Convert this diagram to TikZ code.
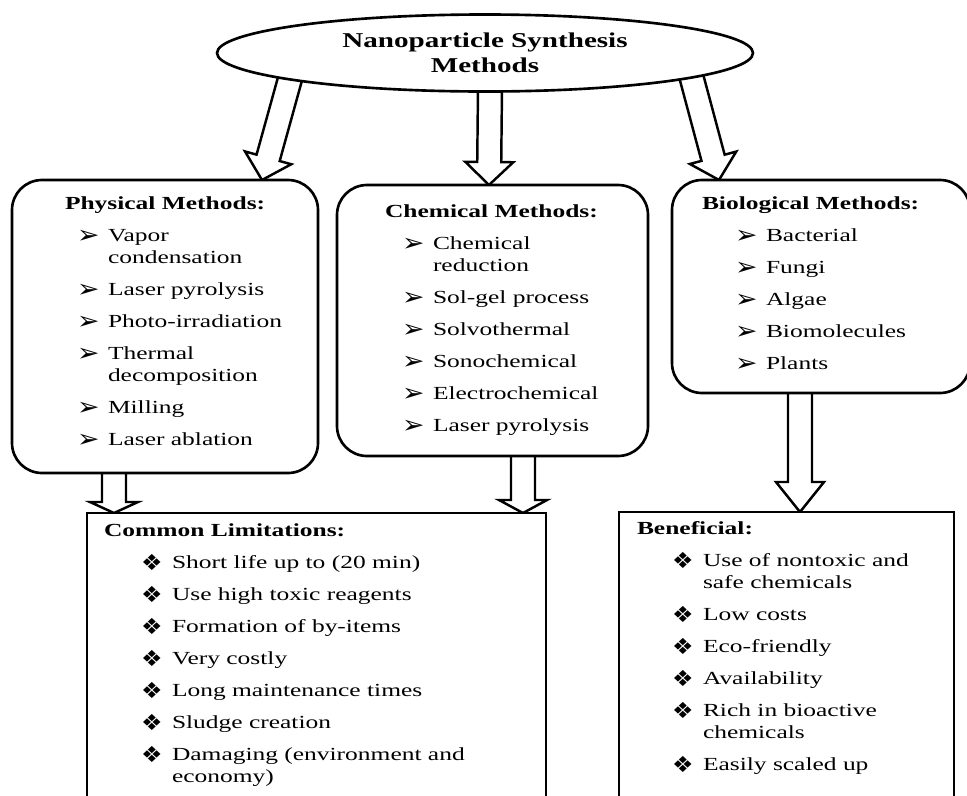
\documentclass[tikz,border=0pt]{standalone}
\usepackage{fontspec}
\setmainfont{Liberation Serif}[FakeStretch=1.38]
\newfontfamily\dingfont{DejaVu Sans}
\usepackage{graphicx}
\usepackage{tikz}
\usetikzlibrary{shapes.geometric, positioning, calc, backgrounds}

\newlength{\itemgap}
\setlength{\itemgap}{5.7pt}
\newcommand{\arrbul}{\makebox[0.62cm][l]{\raisebox{-1pt}{\scalebox{1.45}[1.35]{\dingfont ➢}}}}
\newcommand{\diabul}{\makebox[0.62cm][l]{\raisebox{-0.8pt}{\scalebox{1.3}[1.2]{\dingfont ❖}}}}
\newcommand{\methlist}[2]{\begin{tabular}{@{\hspace{#1}}l@{}l@{}}#2\end{tabular}}
% hollow block arrow: [head length]{from}{to}
\newcommand{\hollowarrow}[3][0.46cm]{%
  \coordinate (ha) at (#2);
  \coordinate (hb) at (#3);
  \coordinate (hh) at ($(hb)!#1!(ha)$);
  \draw[fatarr] ($(ha)!0.24cm!90:(hb)$) -- ($(hh)!0.24cm!-90:(ha)$)
    -- ($(hh)!0.48cm!-90:(ha)$) -- (hb) -- ($(hh)!0.48cm!90:(ha)$)
    -- ($(hh)!0.24cm!90:(ha)$) -- ($(ha)!0.24cm!-90:(hb)$);
}

\begin{document}
\begin{tikzpicture}[
    topoval/.style={ellipse, draw, line width=1.5pt, fill=white,
        minimum width=10.72cm, minimum height=1.54cm, inner sep=0pt,
        align=center, font=\fontsize{12}{14.2}\selectfont\bfseries},
    methbox/.style={rectangle, rounded corners=0.6cm, draw, line width=1.5pt,
        fill=white, inner sep=0pt, outer sep=0pt},
    notebox/.style={rectangle, draw, line width=1.5pt, fill=white,
        inner sep=0pt, outer sep=0pt, anchor=north west, minimum height=7cm},
    listtxt/.style={inner sep=0pt, outer sep=0pt, font=\fontsize{10.5}{12.5}\selectfont},
    fatarr/.style={line width=1.4pt, line join=miter}
]
\useasboundingbox (0,0) rectangle (19.34,-15.9);
\clip (0,0) rectangle (19.34,-15.9);

\node[topoval] (synth) at (9.70,-1.06) {Nanoparticle Synthesis\\Methods};

\node[methbox, minimum width=6.12cm, minimum height=5.86cm] (phys) at (3.30,-6.53) {};
\node[methbox, minimum width=6.22cm, minimum height=5.42cm] (chem) at (9.85,-6.41) {};
\node[methbox, minimum width=5.96cm, minimum height=4.26cm] (bio) at (16.42,-5.73) {};
\node[notebox, minimum width=9.18cm] (limits) at (1.74,-10.26) {};
\node[notebox, minimum width=6.70cm] (benefit) at (12.38,-10.24) {};

\node[listtxt, below right=0.29cm and 1.06cm of phys.north west] (physlist) {\methlist{0.24cm}{%
  \multicolumn{2}{@{}l@{}}{\bfseries Physical Methods:}\\[\itemgap]
  \arrbul & Vapor\\
          & condensation\\[\itemgap]
  \arrbul & Laser pyrolysis\\[\itemgap]
  \arrbul & Photo-irradiation\\[\itemgap]
  \arrbul & Thermal\\
          & decomposition\\[\itemgap]
  \arrbul & Milling\\[\itemgap]
  \arrbul & Laser ablation}};

\node[listtxt, below right=0.35cm and 0.96cm of chem.north west] (chemlist) {\methlist{0.34cm}{%
  \multicolumn{2}{@{}l@{}}{\bfseries Chemical Methods:}\\[\itemgap]
  \arrbul & Chemical\\
          & reduction\\[\itemgap]
  \arrbul & Sol-gel process\\[\itemgap]
  \arrbul & Solvothermal\\[\itemgap]
  \arrbul & Sonochemical\\[\itemgap]
  \arrbul & Electrochemical\\[\itemgap]
  \arrbul & Laser pyrolysis}};

\node[listtxt, below right=0.29cm and 0.60cm of bio.north west] (biolist) {\methlist{0.66cm}{%
  \multicolumn{2}{@{}l@{}}{\bfseries Biological Methods:}\\[\itemgap]
  \arrbul & Bacterial\\[\itemgap]
  \arrbul & Fungi\\[\itemgap]
  \arrbul & Algae\\[\itemgap]
  \arrbul & Biomolecules\\[\itemgap]
  \arrbul & Plants}};

\node[listtxt, below right=0.17cm and 0.34cm of limits.north west] (limitlist) {\methlist{0.74cm}{%
  \multicolumn{2}{@{}l@{}}{\bfseries Common Limitations:}\\[\itemgap]
  \diabul & Short life up to (20 min)\\[\itemgap]
  \diabul & Use high toxic reagents\\[\itemgap]
  \diabul & Formation of by-items\\[\itemgap]
  \diabul & Very costly\\[\itemgap]
  \diabul & Long maintenance times\\[\itemgap]
  \diabul & Sludge creation\\[\itemgap]
  \diabul & Damaging (environment and\\
          & economy)}};

\node[listtxt, below right=0.15cm and 0.36cm of benefit.north west] (benefitlist) {\methlist{0.70cm}{%
  \multicolumn{2}{@{}l@{}}{\bfseries Beneficial:}\\[\itemgap]
  \diabul & Use of nontoxic and\\
          & safe chemicals\\[\itemgap]
  \diabul & Low costs\\[\itemgap]
  \diabul & Eco-friendly\\[\itemgap]
  \diabul & Availability\\[\itemgap]
  \diabul & Rich in bioactive\\
          & chemicals\\[\itemgap]
  \diabul & Easily scaled up}};

\begin{scope}[on background layer]
\hollowarrow{[shift={(0.05,0.2)}]synth.188}{[xshift=1.94cm]phys.north}
\hollowarrow{[xshift=0.1cm,yshift=0.1cm]synth.south}{[xshift=-0.07cm]chem.north}
\hollowarrow{[shift={(-0.06,0.2)}]synth.353}{[xshift=-2.04cm]bio.north}
\hollowarrow[0.22cm]{[xshift=-1.02cm,yshift=0.1cm]phys.south}{[xshift=0.54cm]limits.north west}
\hollowarrow[0.26cm]{[xshift=0.61cm,yshift=0.1cm]chem.south}{[xshift=-0.46cm]limits.north east}
\hollowarrow[0.6cm]{[xshift=-0.42cm,yshift=0.1cm]bio.south}{[xshift=0.27cm]benefit.north}
\end{scope}
\end{tikzpicture}
\end{document}
